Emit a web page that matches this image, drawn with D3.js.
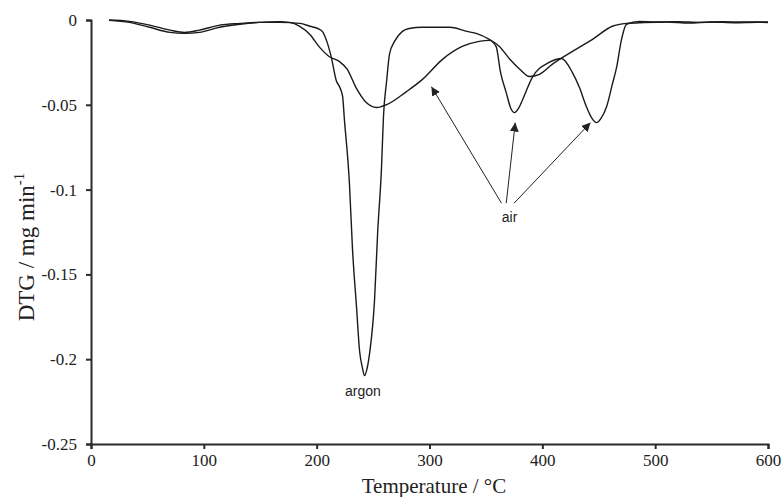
<!DOCTYPE html>
<html>
<head>
<meta charset="utf-8">
<script src="https://cdn.jsdelivr.net/npm/d3@7"></script>
<style>
  body { margin: 0; background: #fff; }
  .title { font-family: "Liberation Serif", "Times New Roman", serif; font-size: 21px; fill: #222; }
  .note { font-family: "Liberation Sans", Arial, sans-serif; font-size: 14px; fill: #222; }
</style>
</head>
<body>
<div id="chart"></div>
<script>
// argon run
const argonT = [16, 34, 52, 70, 83, 96, 114, 132, 149, 167, 185, 194, 202.5, 205, 209, 213, 217.5, 220, 223, 224.5,
  229, 231.8, 235.3, 238, 240.5, 242.4, 244.5, 246.8, 251.3, 254, 257.5, 259.2, 262, 264.6, 269, 276, 282, 294, 318,
  333, 342, 353, 362, 371, 380, 388.6, 397.5, 409, 426.7, 444.5, 462, 474.6, 490, 510, 530, 550, 570, 590, 600];
const argonDTG = [0, -0.0008, -0.003, -0.006, -0.0073, -0.006, -0.003, -0.002, -0.0014, -0.0014, -0.002, -0.0037, -0.0055,
  -0.0067, -0.0126, -0.022, -0.036, -0.039, -0.045, -0.058, -0.096, -0.1357, -0.169, -0.195, -0.205, -0.2097,
  -0.206, -0.197, -0.165, -0.126, -0.0866, -0.057, -0.036, -0.020, -0.0126, -0.0067, -0.005, -0.0043, -0.0043, -0.0067,
  -0.008, -0.0114, -0.0156, -0.023, -0.029, -0.0333, -0.032, -0.026, -0.0185, -0.0114, -0.0037, -0.002, -0.0015,
  -0.0012, -0.0018, -0.0012, -0.0016, -0.0013, -0.0015];

// air run
const airT = [16, 34, 52, 70, 83, 96, 114, 132, 149, 167, 176, 185, 194, 202.5, 211, 220, 227, 235, 244, 253, 262, 279.6,
  293.8, 311.5, 329, 344, 353, 359, 363, 368, 372, 375.4, 379, 382.5, 391, 406, 417, 426.7, 433, 439, 444, 448, 452,
  457, 462, 466, 470, 474.6, 486, 500, 520, 540, 560, 580, 600];
const airDTG = [-0.0002, -0.0014, -0.0043, -0.0073, -0.0079, -0.0073, -0.0043, -0.0025, -0.0014, -0.001, -0.0014, -0.0037,
  -0.0085, -0.016, -0.0215, -0.0244, -0.029, -0.040, -0.0487, -0.0516, -0.0499, -0.0422, -0.035, -0.0232, -0.0156,
  -0.0126, -0.012, -0.0156, -0.031, -0.0428, -0.052, -0.0546, -0.052, -0.047, -0.034, -0.025, -0.0227, -0.031, -0.040,
  -0.051, -0.058, -0.0605, -0.058, -0.051, -0.038, -0.0274, -0.012, -0.0025, -0.0008, -0.0012, -0.0010, -0.0014,
  -0.0010, -0.0012, -0.0011];

const xTicks = [0, 100, 200, 300, 400, 500, 600];
const yTicks = [0, -0.05, -0.1, -0.15, -0.2, -0.25];

// annotation arrows for "air": [tailT, tailDTG, headT, headDTG]
const airArrows = [
  [363.8, -0.108, 301.7, -0.0393],
  [368, -0.108, 376, -0.0605],
  [375, -0.108, 442.7, -0.0605]
];
const airLabel = [371, -0.119];
const argonLabel = [241, -0.2215];

const renderedWidth = 784, renderedHeight = 497;
const margin = { top: 20, right: 16, bottom: 53, left: 91 };
const width = renderedWidth - margin.left - margin.right;
const height = renderedHeight - margin.top - margin.bottom;

const svg = d3.select('#chart').append('svg')
  .attr('width', renderedWidth)
  .attr('height', renderedHeight);

svg.append('defs').append('marker')
  .attr('id', 'head')
  .attr('viewBox', '0 0 10 10')
  .attr('refX', 10).attr('refY', 5)
  .attr('markerWidth', 9).attr('markerHeight', 9)
  .attr('markerUnits', 'userSpaceOnUse')
  .attr('orient', 'auto')
  .append('path')
  .attr('d', 'M0,0L10,5L0,10z')
  .attr('fill', '#222');

const g = svg.append('g').attr('transform', 'translate(' + margin.left + ',' + margin.top + ')');

const x = d3.scaleLinear().domain([0, 600]).range([0, width]);
const y = d3.scaleLinear().domain([0, -0.25]).range([0, height]);

function styleAxis(sel) {
  sel.selectAll('path, line').attr('stroke', '#2a2a2a').attr('stroke-width', 2);
  sel.selectAll('text')
    .style('font-family', "'Liberation Serif', 'Times New Roman', Times, serif")
    .style('font-size', '17px')
    .style('fill', '#222');
}

g.append('g')
  .attr('transform', 'translate(0,' + height + ')')
  .call(d3.axisBottom(x).tickValues(xTicks).tickSize(5).tickPadding(5).tickFormat(d3.format('d')))
  .call(styleAxis);

g.append('g')
  .call(d3.axisLeft(y).tickValues(yTicks).tickSize(5).tickPadding(9).tickFormat(function(d) { return d === 0 ? '0' : String(d); }))
  .call(styleAxis);

const line = d3.line()
  .x(function(d) { return x(d[0]); })
  .y(function(d) { return y(d[1]); })
  .curve(d3.curveMonotoneX);

[[airT, airDTG], [argonT, argonDTG]].forEach(function(s) {
  g.append('path')
    .datum(d3.zip(s[0], s[1]))
    .attr('fill', 'none')
    .attr('stroke', '#1a1a1a')
    .attr('stroke-width', 1.4)
    .attr('d', line);
});

airArrows.forEach(function(a) {
  g.append('line')
    .attr('x1', x(a[0])).attr('y1', y(a[1]))
    .attr('x2', x(a[2])).attr('y2', y(a[3]))
    .attr('stroke', '#222')
    .attr('stroke-width', 1)
    .attr('marker-end', 'url(#head)');
});

g.append('text').attr('class', 'note')
  .attr('x', x(airLabel[0])).attr('y', y(airLabel[1]))
  .attr('text-anchor', 'middle')
  .text('air');

g.append('text').attr('class', 'note')
  .attr('x', x(argonLabel[0])).attr('y', y(argonLabel[1]))
  .attr('text-anchor', 'middle')
  .text('argon');

// axis titles
svg.append('text').attr('class', 'title')
  .attr('x', 434).attr('y', 493)
  .attr('text-anchor', 'middle')
  .text('Temperature / °C');

const yt = svg.append('text').attr('class', 'title')
  .style('font-size', '23px')
  .attr('transform', 'translate(34,247) rotate(-90)')
  .attr('text-anchor', 'middle');
yt.append('tspan').text('DTG / mg min');
yt.append('tspan').attr('dy', -10).style('font-size', '15px').text('-1');
</script>
</body>
</html>
